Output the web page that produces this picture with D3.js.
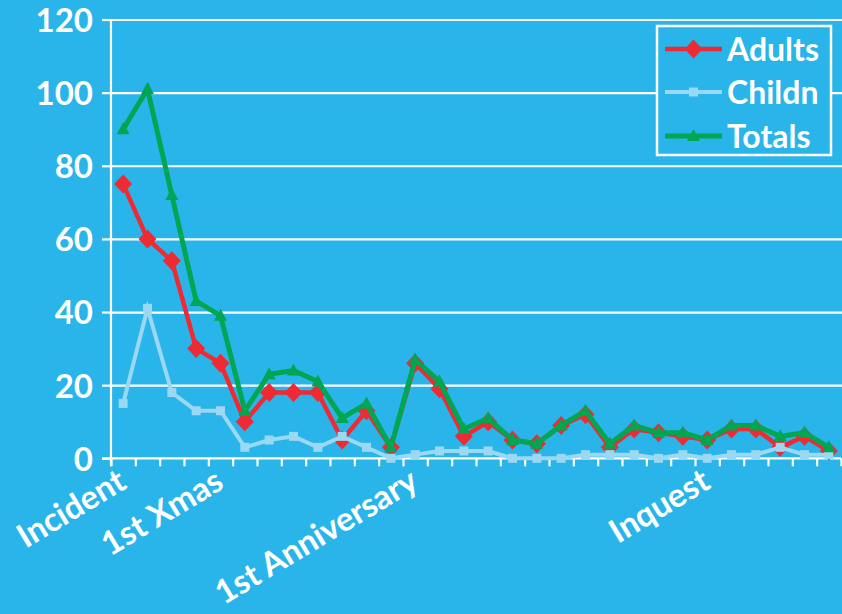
<!DOCTYPE html>
<html>
<head>
<meta charset="utf-8">
<script src="https://cdn.jsdelivr.net/npm/d3@7"></script>
<style>
  html, body { margin: 0; padding: 0; background: #29b5e9; }
  svg { display: block; }
  text { font-family: Lato, "Open Sans", sans-serif; font-weight: bold; fill: #fff; }
</style>
</head>
<body>
<svg id="chart" width="842" height="614"></svg>
<script>
// Monthly counts after the incident
const months = [0,1,2,3,4,5,6,7,8,9,10,11,12,13,14,15,16,17,18,19,20,21,22,23,24,25,26,27,28,29];
const adults   = [75,60,54,30,26,10,18,18,18,5,13,3,26,19,6,10,5,4,9,12,3,8,7,6,5,8,8,3,6,2];
const children = [15,41,18,13,13,3,5,6,3,6,3,0,1,2,2,2,0,0,0,1,1,1,0,1,0,1,1,3,1,1];
const totals   = [90,101,72,43,39,13,23,24,21,11,15,3,27,21,8,11,5,4,9,13,4,9,7,7,5,9,9,6,7,3];

// Named months on the category axis
const markedMonths = [0, 4, 12, 24];
const markedLabels = ["Incident", "1st Xmas", "1st Anniversary", "Inquest"];

const yTicks = [0, 20, 40, 60, 80, 100, 120];

const BG = "#29b5e9";
const series = [
  { name: "Adults", values: adults,   color: "#ee2a33", width: 4.5, shape: "diamond" },
  { name: "Childn", values: children, color: "#9ad8f3", width: 4,   shape: "square" },
  { name: "Totals", values: totals,   color: "#00a651", width: 5,   shape: "triangle" }
];

const svg = d3.select("#chart");
const plotLeft = 111, plotRight = 841, plotTop = 19.5, plotBottom = 458.3;

const x = d3.scaleBand().domain(months).range([plotLeft, plotRight]);
const xEdge = d3.scaleLinear().domain([0, months.length]).range([plotLeft, plotRight]);
const y = d3.scaleLinear().domain([0, 120]).range([plotBottom, plotTop]);

// Horizontal gridlines
svg.append("g")
  .attr("transform", `translate(${plotLeft},0)`)
  .call(d3.axisLeft(y).tickValues(yTicks.slice(1)).tickSize(-(842 - plotLeft)).tickFormat(""))
  .call(g => g.select(".domain").remove())
  .call(g => g.selectAll(".tick line").attr("stroke", "#fff").attr("stroke-width", 2.2));

// Y axis
svg.append("g")
  .attr("transform", `translate(${plotLeft},0)`)
  .call(d3.axisLeft(y).tickValues(yTicks).tickSize(9).tickPadding(9))
  .call(g => g.select(".domain").attr("stroke", "#fff").attr("stroke-width", 2.2)
      .attr("d", `M0,${plotTop}V${plotBottom + 8}`))
  .call(g => g.selectAll(".tick line").attr("stroke", "#fff").attr("stroke-width", 2.2))
  .call(g => g.selectAll(".tick text")
      .attr("font-size", 33).attr("fill", "#fff").attr("dy", "0.36em")
      .style("font-family", "Lato, 'Open Sans', sans-serif").style("font-weight", "bold"));

// X axis: ticks between months
svg.append("g")
  .attr("transform", `translate(0,${plotBottom})`)
  .call(d3.axisBottom(xEdge).tickValues(d3.range(0, months.length + 1)).tickSize(8).tickFormat(""))
  .call(g => g.select(".domain").attr("stroke", "#fff").attr("stroke-width", 2.2)
      .attr("d", `M${plotLeft - 9},0H${plotRight}`))
  .call(g => g.selectAll(".tick line").attr("stroke", "#fff").attr("stroke-width", 2.2));

// Rotated month labels
svg.append("g").selectAll("text")
  .data(markedMonths)
  .join("text")
  .attr("transform", (m) => `translate(${x(m) + x.bandwidth() / 2 + 5},${plotBottom + 29}) rotate(-31)`)
  .attr("text-anchor", "end")
  .attr("font-size", 33)
  .text((m, i) => markedLabels[i]);

// Marker shapes
function markerPath(shape) {
  if (shape === "diamond") return "M0,-9.5L9,0L0,9.5L-9,0Z";
  if (shape === "square") return "M-4.5,-4.5H4.5V4.5H-4.5Z";
  return "M0,-7L6.5,5H-6.5Z";
}

const line = d3.line().x((d, i) => x(months[i]) + x.bandwidth() / 2).y(d => y(d));

series.forEach(s => {
  const g = svg.append("g");
  g.append("path")
    .attr("d", line(s.values))
    .attr("fill", "none")
    .attr("stroke", s.color)
    .attr("stroke-width", s.width)
    .attr("stroke-linejoin", "miter");
  g.selectAll("path.mk")
    .data(s.values)
    .join("path")
    .attr("class", "mk")
    .attr("d", markerPath(s.shape))
    .attr("transform", (d, i) => `translate(${x(months[i]) + x.bandwidth() / 2},${y(d)})`)
    .attr("fill", s.color);
});

// Legend
const legend = svg.append("g");
legend.append("rect")
  .attr("x", 657).attr("y", 26).attr("width", 174).attr("height", 129)
  .attr("fill", BG).attr("stroke", "#fff").attr("stroke-width", 2.5);
const rowY = [49, 92, 136];
series.forEach((s, i) => {
  legend.append("line")
    .attr("x1", 665).attr("x2", 722).attr("y1", rowY[i]).attr("y2", rowY[i])
    .attr("stroke", s.color).attr("stroke-width", s.width);
  legend.append("path")
    .attr("d", markerPath(s.shape))
    .attr("transform", `translate(693.5,${rowY[i]})`)
    .attr("fill", s.color);
  legend.append("text")
    .attr("x", 727).attr("y", rowY[i]).attr("dy", "0.36em")
    .attr("font-size", 32)
    .text(s.name);
});
</script>
</body>
</html>
